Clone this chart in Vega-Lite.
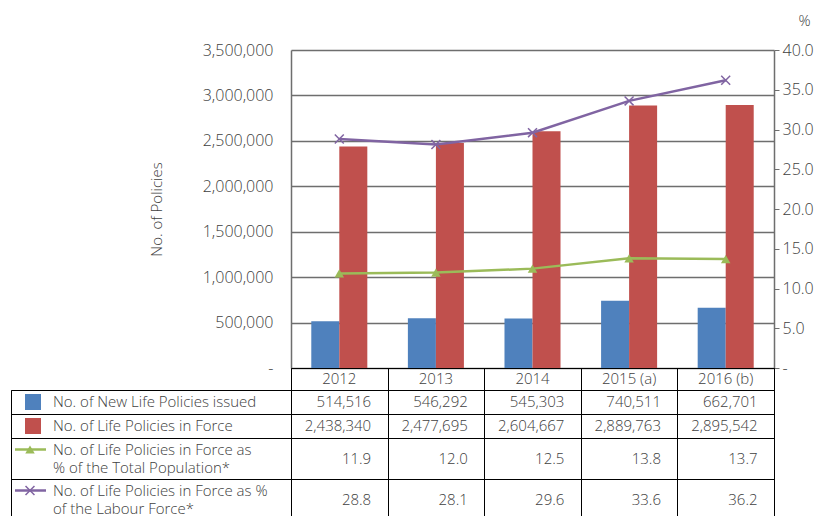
{
  "$schema": "https://vega.github.io/schema/vega-lite/v6.json",
  "padding": {"left": 10, "top": 13, "right": 5, "bottom": 0},
  "background": "white",
  "config": {
    "view": {"stroke": null},
    "font": "Open Sans",
    "text": {"font": "Open Sans", "fontSize": 15, "fontWeight": 300, "color": "#404040"},
    "axis": {"labelFont": "Open Sans", "titleFont": "Open Sans", "labelColor": "#404040", "titleColor": "#404040", "labelFontSize": 16, "titleFontSize": 15, "labelFontWeight": 300, "titleFontWeight": 300, "labelOverlap": false}
  },
  "datasets": {
    "bars": [
      {"year": "2012", "series": "No. of New Life Policies issued", "value": 514516},
      {"year": "2013", "series": "No. of New Life Policies issued", "value": 546292},
      {"year": "2014", "series": "No. of New Life Policies issued", "value": 545303},
      {"year": "2015 (a)", "series": "No. of New Life Policies issued", "value": 740511},
      {"year": "2016 (b)", "series": "No. of New Life Policies issued", "value": 662701},
      {"year": "2012", "series": "No. of Life Policies in Force", "value": 2438340},
      {"year": "2013", "series": "No. of Life Policies in Force", "value": 2477695},
      {"year": "2014", "series": "No. of Life Policies in Force", "value": 2604667},
      {"year": "2015 (a)", "series": "No. of Life Policies in Force", "value": 2889763},
      {"year": "2016 (b)", "series": "No. of Life Policies in Force", "value": 2895542}
    ],
    "lines": [
      {"year": "2012", "series": "No. of Life Policies in Force as % of the Total Population*", "value": 11.9},
      {"year": "2013", "series": "No. of Life Policies in Force as % of the Total Population*", "value": 12.0},
      {"year": "2014", "series": "No. of Life Policies in Force as % of the Total Population*", "value": 12.5},
      {"year": "2015 (a)", "series": "No. of Life Policies in Force as % of the Total Population*", "value": 13.8},
      {"year": "2016 (b)", "series": "No. of Life Policies in Force as % of the Total Population*", "value": 13.7},
      {"year": "2012", "series": "No. of Life Policies in Force as % of the Labour Force*", "value": 28.8},
      {"year": "2013", "series": "No. of Life Policies in Force as % of the Labour Force*", "value": 28.1},
      {"year": "2014", "series": "No. of Life Policies in Force as % of the Labour Force*", "value": 29.6},
      {"year": "2015 (a)", "series": "No. of Life Policies in Force as % of the Labour Force*", "value": 33.6},
      {"year": "2016 (b)", "series": "No. of Life Policies in Force as % of the Labour Force*", "value": 36.2}
    ],
    "years": [
      {"year": "2012"}, {"year": "2013"}, {"year": "2014"}, {"year": "2015 (a)"}, {"year": "2016 (b)"}
    ],
    "legend1": [
      {"series": "No. of New Life Policies issued", "label": "No. of New Life Policies issued"},
      {"series": "No. of Life Policies in Force", "label": "No. of Life Policies in Force"}
    ],
    "legend2": [
      {"series": "No. of Life Policies in Force as % of the Total Population*", "label": "No. of Life Policies in Force as|% of the Total Population*"},
      {"series": "No. of Life Policies in Force as % of the Labour Force*", "label": "No. of Life Policies in Force as %|of the Labour Force*"}
    ]
  },
  "columns": 2,
  "spacing": 0,
  "bounds": "flush",
  "align": "each",
  "concat": [
    {"width": 280, "height": 318, "data": {"values": []}, "mark": "point"},
    {
      "width": 483,
      "height": 318,
      "layer": [
        {
          "data": {"name": "bars"},
          "mark": {"type": "bar"},
          "encoding": {
            "x": {"field": "year", "type": "nominal", "sort": null, "scale": {"paddingInner": 0.42, "paddingOuter": 0.21}, "axis": null},
            "xOffset": {"field": "series", "type": "nominal", "sort": ["No. of New Life Policies issued", "No. of Life Policies in Force"]},
            "y": {"field": "value", "type": "quantitative", "scale": {"domain": [0, 3500000]},
              "axis": {"orient": "left", "title": "No. of Policies", "values": [0, 500000, 1000000, 1500000, 2000000, 2500000, 3000000, 3500000],
                "labelExpr": "datum.value == 0 ? '-' : format(datum.value, ',')", "grid": true, "gridColor": "#6e6e6e", "gridWidth": 1.3,
                "ticks": false, "domainColor": "#6e6e6e", "domainWidth": 1.5, "labelPadding": 18, "titlePadding": 38}},
            "color": {"field": "series", "type": "nominal", "legend": null,
              "scale": {"domain": ["No. of New Life Policies issued", "No. of Life Policies in Force", "No. of Life Policies in Force as % of the Total Population*", "No. of Life Policies in Force as % of the Labour Force*"],
                "range": ["#4F81BD", "#C0504D", "#9BBB59", "#8064A2"]}}
          }
        },
        {
          "data": {"name": "lines"},
          "encoding": {
            "x": {"field": "year", "type": "nominal", "sort": null},
            "y": {"field": "value", "type": "quantitative", "scale": {"domain": [0, 40]},
              "axis": {"orient": "right", "values": [0, 5, 10, 15, 20, 25, 30, 35, 40], "labelOverlap": false,
                "labelExpr": "datum.value == 0 ? '-' : format(datum.value, '.1f')", "grid": false,
                "ticks": true, "tickSize": 5, "tickColor": "#6e6e6e", "domainColor": "#6e6e6e", "domainWidth": 1.5, "labelPadding": 3,
                "title": "%", "titleAngle": 0, "titleX": 30, "titleY": -25, "titleAlign": "center", "titleBaseline": "alphabetic", "titleFontSize": 15}}
          },
          "layer": [
            {
              "mark": {"type": "line", "strokeWidth": 2.5},
              "encoding": {
                "color": {"field": "series", "type": "nominal", "legend": null,
                  "scale": {"domain": ["No. of New Life Policies issued", "No. of Life Policies in Force", "No. of Life Policies in Force as % of the Total Population*", "No. of Life Policies in Force as % of the Labour Force*"],
                    "range": ["#4F81BD", "#C0504D", "#9BBB59", "#8064A2"]}}
              }
            },
            {
              "transform": [{"filter": "datum.series == 'No. of Life Policies in Force as % of the Total Population*'"}],
              "mark": {"type": "point", "shape": "triangle-up", "filled": true, "size": 90, "color": "#9BBB59", "opacity": 1}
            },
            {
              "transform": [{"filter": "datum.series == 'No. of Life Policies in Force as % of the Labour Force*'"}],
              "mark": {"type": "point", "shape": "M-1,-1L1,1M-1,1L1,-1", "filled": false, "size": 80, "strokeWidth": 1.5, "color": "#8064A2", "opacity": 1}
            }
          ]
        }
      ],
      "resolve": {"scale": {"y": "independent"}}
    },
    {"width": 280, "height": 22, "data": {"values": []}, "mark": "point"},
    {
      "data": {"name": "years"},
      "width": 483,
      "height": 22,
      "view": {"stroke": "black", "strokeWidth": 1},
      "mark": {"type": "text", "fontSize": 15},
      "encoding": {
        "x": {"field": "year", "type": "nominal", "sort": null, "scale": {"paddingInner": 0, "paddingOuter": 0},
          "axis": {"grid": true, "tickBand": "extent", "gridColor": "black", "gridWidth": 1, "labels": false, "ticks": false, "domain": false, "title": null}},
        "text": {"field": "year"}
      }
    },
    {
      "data": {"name": "legend1"},
      "width": 280,
      "height": 48,
      "view": {"stroke": "black", "strokeWidth": 1},
      "encoding": {
        "y": {"field": "series", "type": "nominal", "sort": null, "scale": {"paddingInner": 0, "paddingOuter": 0},
          "axis": {"grid": true, "tickBand": "extent", "gridColor": "black", "gridWidth": 1, "labels": false, "ticks": false, "domain": false, "title": null}}
      },
      "layer": [
        {
          "mark": {"type": "square", "size": 256, "opacity": 1},
          "encoding": {
            "x": {"datum": 22, "type": "quantitative", "scale": {"domain": [0, 280]}, "axis": null},
            "color": {"field": "series", "type": "nominal", "legend": null,
              "scale": {"domain": ["No. of New Life Policies issued", "No. of Life Policies in Force"], "range": ["#4F81BD", "#C0504D"]}}
          }
        },
        {
          "mark": {"type": "text", "align": "left", "fontSize": 15},
          "encoding": {
            "x": {"datum": 42, "type": "quantitative"},
            "text": {"field": "label"}
          }
        }
      ]
    },
    {
      "data": {"name": "bars"},
      "width": 483,
      "height": 48,
      "view": {"stroke": "black", "strokeWidth": 1},
      "mark": {"type": "text", "align": "right", "fontSize": 15},
      "encoding": {
        "x": {"field": "year", "type": "nominal", "sort": null, "bandPosition": 0.83, "scale": {"paddingInner": 0, "paddingOuter": 0},
          "axis": {"grid": true, "tickBand": "extent", "gridColor": "black", "gridWidth": 1, "labels": false, "ticks": false, "domain": false, "title": null}},
        "y": {"field": "series", "type": "nominal", "sort": ["No. of New Life Policies issued", "No. of Life Policies in Force"], "scale": {"paddingInner": 0, "paddingOuter": 0},
          "axis": {"grid": true, "tickBand": "extent", "gridColor": "black", "gridWidth": 1, "labels": false, "ticks": false, "domain": false, "title": null}},
        "text": {"field": "value", "type": "quantitative", "format": ","}
      }
    },
    {
      "data": {"name": "legend2"},
      "width": 280,
      "height": 82,
      "view": {"stroke": "black", "strokeWidth": 1},
      "encoding": {
        "y": {"field": "series", "type": "nominal", "sort": null, "scale": {"paddingInner": 0, "paddingOuter": 0},
          "axis": {"grid": true, "tickBand": "extent", "gridColor": "black", "gridWidth": 1, "labels": false, "ticks": false, "domain": false, "title": null}}
      },
      "layer": [
        {
          "mark": {"type": "rule", "strokeWidth": 2.5, "yOffset": -9},
          "encoding": {
            "x": {"datum": 4, "type": "quantitative", "scale": {"domain": [0, 280]}, "axis": null},
            "x2": {"datum": 35},
            "color": {"field": "series", "type": "nominal", "legend": null,
              "scale": {"domain": ["No. of Life Policies in Force as % of the Total Population*", "No. of Life Policies in Force as % of the Labour Force*"], "range": ["#9BBB59", "#8064A2"]}}
          }
        },
        {
          "transform": [{"filter": "datum.series == 'No. of Life Policies in Force as % of the Total Population*'"}],
          "mark": {"type": "point", "shape": "triangle-up", "filled": true, "size": 90, "color": "#9BBB59", "opacity": 1, "yOffset": -9},
          "encoding": {"x": {"datum": 19, "type": "quantitative"}}
        },
        {
          "transform": [{"filter": "datum.series == 'No. of Life Policies in Force as % of the Labour Force*'"}],
          "mark": {"type": "point", "shape": "M-1,-1L1,1M-1,1L1,-1", "filled": false, "size": 80, "strokeWidth": 1.5, "color": "#8064A2", "opacity": 1, "yOffset": -9},
          "encoding": {"x": {"datum": 19, "type": "quantitative"}}
        },
        {
          "mark": {"type": "text", "align": "left", "baseline": "middle", "fontSize": 15, "lineBreak": "|", "lineHeight": 18, "yOffset": -9},
          "encoding": {
            "x": {"datum": 42, "type": "quantitative"},
            "text": {"field": "label"}
          }
        }
      ]
    },
    {
      "data": {"name": "lines"},
      "width": 483,
      "height": 82,
      "view": {"stroke": "black", "strokeWidth": 1},
      "mark": {"type": "text", "align": "right", "fontSize": 15},
      "encoding": {
        "x": {"field": "year", "type": "nominal", "sort": null, "bandPosition": 0.83, "scale": {"paddingInner": 0, "paddingOuter": 0},
          "axis": {"grid": true, "tickBand": "extent", "gridColor": "black", "gridWidth": 1, "labels": false, "ticks": false, "domain": false, "title": null}},
        "y": {"field": "series", "type": "nominal", "sort": ["No. of Life Policies in Force as % of the Total Population*", "No. of Life Policies in Force as % of the Labour Force*"], "scale": {"paddingInner": 0, "paddingOuter": 0},
          "axis": {"grid": true, "tickBand": "extent", "gridColor": "black", "gridWidth": 1, "labels": false, "ticks": false, "domain": false, "title": null}},
        "text": {"field": "value", "type": "quantitative", "format": ".1f"}
      }
    }
  ]
}
